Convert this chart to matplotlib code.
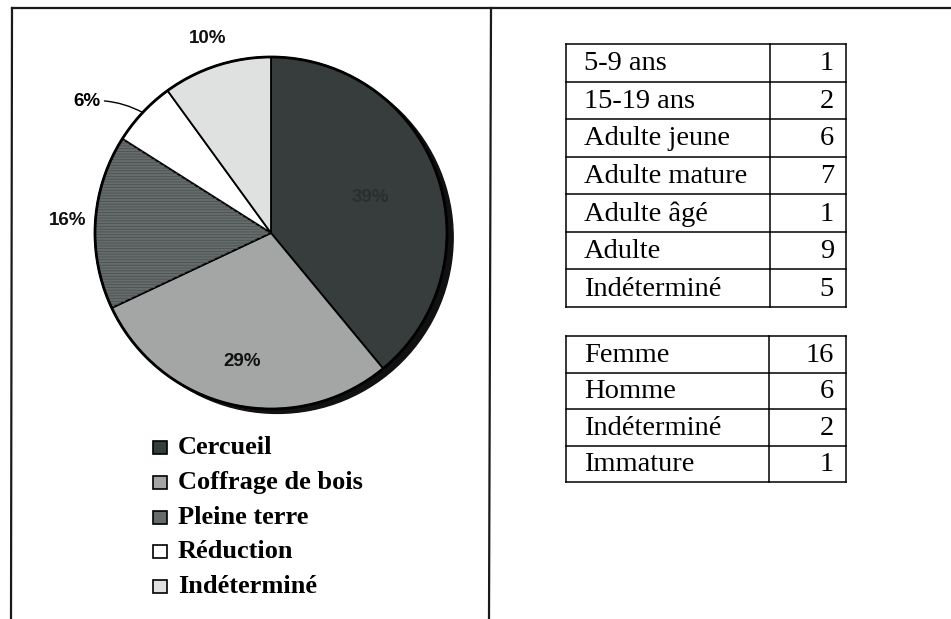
import numpy as np
import matplotlib
matplotlib.use("Agg")
import matplotlib.pyplot as plt
from matplotlib.patches import Rectangle, Circle, Wedge

# pie: mode of burial (percent)
modes = ['Cercueil', 'Coffrage de bois', 'Pleine terre', 'Réduction', 'Indéterminé']
percents = [39, 29, 16, 6, 10]
colors = ['#373d3d', '#a4a6a6', '#656c6b', '#ffffff', '#dfe0e0']

# tables: age classes and sex
ages = ['5-9 ans', '15-19 ans', 'Adulte jeune', 'Adulte mature', 'Adulte âgé', 'Adulte', 'Indéterminé']
age_counts = [1, 2, 6, 7, 1, 9, 5]
sexes = ['Femme', 'Homme', 'Indéterminé', 'Immature']
sex_counts = [16, 6, 2, 1]

plt.rcParams['font.serif'] = ['Liberation Serif', 'DejaVu Serif']

W, H = 951, 619
fig = plt.figure(figsize=(W / 100, H / 100), dpi=100)
fig.patch.set_facecolor('white')

# overlay in pixel coordinates for frame, legend and tables
ax0 = fig.add_axes([0, 0, 1, 1])
ax0.set_xlim(0, W)
ax0.set_ylim(H, 0)
ax0.axis('off')

ax0.plot([12, W], [8, 8], color='#1a1a1a', lw=1.6)
ax0.plot([12, 11], [8, H], color='#1a1a1a', lw=1.6)
ax0.plot([491, 489], [8, H], color='#1a1a1a', lw=1.6)

# pie
cx, cy, R = 271, 233, 174
S = 440
L = S / (2 * R)
axp = fig.add_axes([(cx - S / 2) / W, 1 - (cy + S / 2) / H, S / W, S / H])
axp.set_xlim(-L, L)
axp.set_ylim(-L, L)
axp.set_aspect('equal')
axp.axis('off')
axp.patch.set_alpha(0)

axp.add_patch(Circle((0.035, -0.025), 1.0, color='#111111', zorder=0))
wedges, _ = axp.pie(percents, colors=colors, startangle=90, counterclock=False,
                    wedgeprops=dict(edgecolor='black', linewidth=1.3))
for w in wedges:
    w.set_zorder(2)
axp.add_patch(Circle((0, 0), 1.0, fill=False, edgecolor='black', lw=2.0, zorder=3))

# horizontal line texture on "Pleine terre"
pw = wedges[2]
matplotlib.rcParams['hatch.linewidth'] = 0.6
axp.add_patch(Wedge((0, 0), 1.0, pw.theta1, pw.theta2, fill=False, hatch='------',
                    edgecolor='#4a5150', lw=0, zorder=2.5))

dists = [0.6, 0.75, 1.16, 1.25, 1.16]
txtcol = ['#2a2e2e', '#111111', '#111111', '#111111', '#111111']
for w, p, d, c in zip(wedges, percents, dists, txtcol):
    ang = np.deg2rad((w.theta1 + w.theta2) / 2)
    x, y = np.cos(ang), np.sin(ang)
    if p == 6:
        axp.annotate(f'{p}%', xy=(x, y), xytext=(-0.97, 0.75), ha='right', va='center',
                     fontsize=13.5, fontweight='bold', family='Liberation Sans',
                     arrowprops=dict(arrowstyle='-', color='black', lw=1.0,
                                     connectionstyle='arc3,rad=-0.15',
                                     shrinkA=1, shrinkB=0))
    else:
        axp.text(d * x, d * y, f'{p}%', ha='center', va='center', fontsize=13.5,
                 fontweight='bold', family='Liberation Sans', color=c, zorder=5)

# legend
for i, (name, col) in enumerate(zip(modes, colors)):
    y = 441 + 34.8 * i
    ax0.add_patch(Rectangle((153, y), 14, 13, facecolor=col, edgecolor='black', lw=1.2))
    ax0.text(178, y + 6.5, name, ha='left', va='center', fontsize=19, fontweight='bold',
             family='serif', color='black')


def draw_table(names, counts, left, right, mid, top, bottom):
    n = len(names)
    rh = (bottom - top) / n
    for k in range(n + 1):
        ax0.plot([left, right], [top + k * rh] * 2, color='black', lw=1.1)
    for xx in (left, mid, right):
        ax0.plot([xx, xx], [top, bottom], color='black', lw=1.1)
    for k, (nm, ct) in enumerate(zip(names, counts)):
        yc = top + (k + 0.5) * rh
        ax0.text(left + 18, yc + 1, nm, ha='left', va='center', fontsize=20.5,
                 family='serif', color='black')
        ax0.text(right - 12, yc + 1, str(ct), ha='right', va='center', fontsize=20.5,
                 family='serif', color='black')


draw_table(ages, age_counts, 566, 846, 770, 44, 307)
draw_table(sexes, sex_counts, 566, 846, 769, 336, 482)

fig.savefig('out.png', dpi=100, facecolor='white')
